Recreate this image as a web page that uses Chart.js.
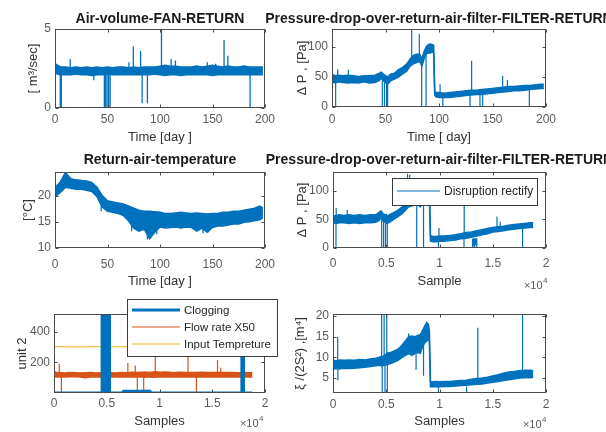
<!DOCTYPE html>
<html><head><meta charset="utf-8">
<script src="https://cdn.jsdelivr.net/npm/chart.js@4"></script>
<style>
html,body{margin:0;padding:0;background:#fff;overflow:hidden;width:606px;height:432px;position:relative;}
canvas{position:absolute;}
</style></head><body>
<canvas id="c1"></canvas><canvas id="c2"></canvas><canvas id="c3"></canvas>
<canvas id="c4"></canvas><canvas id="c5"></canvas><canvas id="c6"></canvas>
<script>
// ---------- tick labels ----------
const dayTicks = [0,50,100,150,200];
const dayTickLabels = ['0','50','100','150','200'];
const sampleTicks = [0,5000,10000,15000,20000];
const sampleTickLabels = ['0','0.5','1','1.5','2'];

// ---------- panel 1 : air volume (days) ----------
const dayGrid = [0,5,10,15,20,25,30,35,40,45,50,55,60,65,70,75,80,85,90,95,100,105,110,115,120,125,130,135,140,145,150,155,160,165,170,175,180,185,190,195,198];
const airHi = [2.8,2.6,2.6,2.55,2.6,2.55,2.6,2.55,2.6,2.55, 2.6,2.55,2.6,2.6,2.55,2.6,2.55,2.6,2.6,2.6, 2.65,2.7,2.65,2.65,2.6,2.6,2.6,2.65,2.6,2.65, 2.7,2.65,2.6,2.65,2.6,2.6,2.65,2.6,2.6,2.6,2.6];
const airLo = [2.2,2.1,2.1,2.1,2.15,2.1,2.1,2.05,2.1,2.1, 2.15,2.1,2.1,2.1,2.1,2.1,2.1,2.1,2.1,2.15, 2.1,2.05,2.1,2.1,2.05,2.1,2.1,2.1,2.1,2.1, 2.05,2.1,2.1,2.1,2.1,2.1,2.1,2.1,2.1,2.1,2.1];
const airSpikeX    = [5,6,14.5,37,47,48,49.5,51,52.5,70.4,74.6,81.5,83,88,101.4,110.6,114.7,145,153,161,164.6,185.8];
const airSpikeFrom = [2.2,2.2,2.6,2.1,2.1,2.1,2.1,2.1,2.1,2.6,2.6,2.6,2.1,2.1,2.6,2.6,2.6,2.6,2.6,2.6,2.6,2.1];
const airSpikeTo   = [0,0,3.1,1.75,0,0,0,0,0,2.9,3.9,3.6,0.3,0.3,5,3.1,3.0,2.9,2.8,4.3,3.3,0];

// ---------- panel 2 : pressure drop (days) ----------
const pDays = [0,3,6,10,15,20,25,30,35,40,44,46,48,52,55,58,62,66,70,73,76,79,82,84,86,88,90,92,94,95,96,97,100,105,110,115,120,125,130,135,140,145,150,155,160,165,170,175,180,185,190,195,198];
const pHi = [55,52,53,52,53,52,51,52,52,53,56,58,55,50,55,56,62,66,72,80,86,88,88,80,92,100,104,105,104,103,28,24,24,23,24,25,26,27,28,28,29,30,31,32,33,34,34,35,36,36,37,38,38];
const pLo = [42,40,42,41,40,41,40,42,40,41,44,48,44,38,44,46,50,55,60,68,72,74,76,68,80,88,90,90,92,90,20,17,16,16,16,17,18,19,20,21,21,22,23,24,25,26,27,27,28,29,30,31,31];
const pSpikeX    = [3.4,5.3,15.3,47,48,49,50,51,52,74.5,81.6,83.8,87.9,101,103.6,129,130.5,138.3,140.8,159.5,163.9,184.4];
const pSpikeFrom = [42,52,52,44,44,44,44,44,44,80,88,76,88,24,16,19,27,20,21,31,33,29];
const pSpikeTo   = [0,63,62,0,55,0,50,0,0,130,122,0,0,38,0,0,77,0,0,52,45,0];

// ---------- panel 3 : return air temperature (days) ----------
const tempHi = [21.5,22.6,24.4,23.2,23.0,22.9,22.8,22.5,21.6,20.0,19.0,18.8,18.6,18.4,18.0,17.6,17.2,17.0,17.0,16.9,16.8,16.6,16.6,16.7,16.8,16.7,16.6,16.7,16.6,16.5,16.6,16.6,16.8,16.8,17.0,17.0,17.2,17.4,17.6,18.0,17.6];
const tempLo = [19.8,20.6,21.6,21.4,21.2,21.2,21.0,20.8,19.8,17.8,17.0,16.8,16.6,16.2,15.2,13.8,13.2,13.6,11.8,13.0,14.0,13.8,13.9,14.0,13.8,14.0,13.9,13.2,13.8,13.0,13.9,14.2,14.2,14.4,14.6,14.6,14.9,15.0,15.2,15.4,15.8];
const tempSpikeX    = [44,73,88,91,97,141,146];
const tempSpikeFrom = [19,15.5,14,14,14,14,14];
const tempSpikeTo   = [17.0,13.2,11.6,11.8,12.6,12.8,13.0];

// ---------- panel 4 : pressure drop (samples) ----------
const sampleGrid = [0,300,600,1000,1500,2000,2500,3000,3500,4000,4300,4500,4700,5100,5400,5700,6100,6500,6800,7100,7400,7700,8000,8200,8400,8600,8800,8950,9050,9150,9400,9700,10000,10500,11000,11500,12000,12500,13000,13500,14000,14500,15000,15500,16000,16500,17000,17500,18000,18500,18800];
const sHi = [56,57,58,57,58,57,58,57,58,58,62,65,60,56,59,62,66,72,80,88,92,92,90,86,94,100,102,104,103,22,20,20,21,21,22,23,25,27,28,30,32,34,36,37,38,40,41,42,43,44,44];
const sLo = [44,43,44,44,43,44,43,44,44,45,48,52,47,43,46,50,55,60,66,72,74,75,75,72,80,86,88,90,88,12,11,11,12,12,13,14,16,17,19,21,23,25,28,29,30,32,33,34,35,36,36];
const sSpikeX    = [280,300,1340,4570,4660,4750,4840,4930,5020,5100,7000,7200,7860,8500,9900,9950,12300,12320,13100,13200,13300,13400,13500,15400,15700,17800];
const sSpikeFrom = [44,57,57,48,48,48,48,48,48,48,85,90,78,88,11,20,17,26,16,17,17,17,17,36,37,35];
const sSpikeTo   = [0,70,67,0,60,0,55,0,60,0,130,128,0,0,0,35,0,81,0,3,0,5,0,55,46,0];

// ---------- panel 5 : clogging / flow / temperature (samples) ----------
const clogX = [0,4550,4560,5250,5260,6500,6600,9100,9200,17800,17810,17950,17960,18800];
const clogY = [0,0,515,515,0,0,12,12,0,0,515,515,0,0];
const flowHi = [140,133,132,131,133,132,131,132,133,131, 132,131,132,133,132,131,132,133,132,134, 135,136,134,136,135,137,136,135,134,135, 137,138,136,137,135,134,135,134,133,134, 135,134,133,134,133,134,133,132,133,132,133];
const flowLo = [108,105,106,105,106,107,105,100,106,105, 106,105,106,105,106,105,106,105,106,105, 104,105,106,104,105,103,104,105,106,105, 103,104,105,104,105,106,105,104,105,106, 105,104,105,106,105,104,105,106,105,104,105];
const flowSpikeX    = [500,700,4600,4800,5000,7000,7700,7900,8500,9600,12700,13500,15500,15800,17900];
const flowSpikeFrom = [130,105,105,105,105,130,130,105,105,130,130,105,130,130,105];
const flowSpikeTo   = [190,0,0,0,0,195,180,0,0,280,330,0,215,165,0];
const tempInX = [0,2000,4000,6000,8000,10000,12000,14000,16000,18800];
const tempInY = [302,300,302,301,302,300,301,300,302,301];

// ---------- panel 6 : xi/(2S^2) (samples) ----------
const xiHi = [9.3,9.2,9.4,9.3,9.4,9.3,9.5,9.4,9.6,9.8, 10.0,10.2,10.2,11.0,11.2,11.5,12.0,13.0,14.0,15.0, 15.2,15.0,15.4,15.5,16.5,17.5,18.5,18.0,16.5,4.2, 4.1,4.2,4.1,4.2,4.2,4.3,4.4,4.5,4.7,4.9,5.0,5.2,5.5,5.8,6.2,6.5,6.6,6.8,6.9,6.9,6.8];
const xiLo = [7.2,7.3,7.2,7.4,7.3,7.4,7.5,7.6,7.8,8.0, 8.1,8.0,8.0,8.3,8.5,8.8,9.3,10.0,10.5,11.0, 10.5,11.0,11.2,11.0,12.5,13.5,14.0,14.5,13.8,2.9, 2.9,3.0,2.9,3.0,3.0,3.1,3.2,3.3,3.4,3.5,3.6,3.8,4.0,4.2,4.4,4.6,4.8,5.0,5.1,5.1,5.2];
const xiSpikeX    = [440,460,4570,4620,4800,4880,5050,5100,7100,7800,8500,9900,12550,13600,17800];
const xiSpikeFrom = [9.3,7.3,9.0,8.2,9.0,8.2,9.0,8.2,14,11,14,3,3,4.5,6.5];
const xiSpikeTo   = [15,4.5,20.5,1,20.5,1,20.5,1,15.8,7,5.6,1,1,17.2,20.5];

// ---------- styling ----------
const FONT = '"Liberation Sans", Arial, Helvetica, sans-serif';
const BLUE = '#0072BD', ORANGE = '#D95319', YELLOW = '#EDB120';
const TICKC = '#5a5a5a', BOXC = '#4a4a4a';

function xy(xs, ys){ return xs.map((x,i)=>({x:x, y:ys[i]})); }
function spikes(xs, from, to){ const out=[]; xs.forEach((x,i)=>{ out.push({x:x,y:from[i]},{x:x,y:to[i]},{x:x,y:null}); }); return out; }
function band(xs, hi, lo, color, label, w){
  return [
    {label:label, data:xy(xs,hi), borderColor:color, backgroundColor:color, borderWidth:w||1.5, fill:'+1', pointRadius:0, tension:0},
    {label:label+' low', data:xy(xs,lo), borderColor:color, backgroundColor:color, borderWidth:w||1.5, fill:false, pointRadius:0, tension:0}
  ];
}
function spikeSet(xs, f, t, color, w){
  return {label:'spikes', data:spikes(xs,f,t), borderColor:color, borderWidth:w||1.1, pointRadius:0, fill:false, spanGaps:false};
}

const decor = {
  id:'decor',
  afterDatasetsDraw(chart, args, o){
    const ctx = chart.ctx, a = chart.chartArea;
    ctx.save();
    ctx.strokeStyle = BOXC; ctx.lineWidth = 1;
    const L = Math.round(a.left)+0.5, T = Math.round(a.top)+0.5, R = Math.round(a.right)-0.5, B = Math.round(a.bottom)-0.5;
    ctx.strokeRect(L, T, R-L, B-T);
    ctx.beginPath();
    chart.scales.x.ticks.forEach(t=>{ const px = Math.round(chart.scales.x.getPixelForValue(t.value))+0.5;
      ctx.moveTo(px,B); ctx.lineTo(px,B-3); ctx.moveTo(px,T); ctx.lineTo(px,T+3); });
    chart.scales.y.ticks.forEach(t=>{ const py = Math.round(chart.scales.y.getPixelForValue(t.value))+0.5;
      ctx.moveTo(L,py); ctx.lineTo(L+3,py); ctx.moveTo(R,py); ctx.lineTo(R-3,py); });
    ctx.stroke();
    ctx.restore();
  },
  afterDraw(chart, args, o){
    const ctx = chart.ctx, ox = o.ox||0, oy = o.oy||0;
    ctx.save();
    if (o.exponent){
      const e = o.exponent;
      ctx.fillStyle = TICKC; ctx.textBaseline='middle';
      ctx.font = '8px '+FONT; const w4 = ctx.measureText(e.sup).width;
      ctx.font = '11px '+FONT; const wb = ctx.measureText(e.base).width;
      const x0 = e.right - ox - w4 - wb, y0 = e.y - oy;
      ctx.textAlign='left';
      ctx.fillText(e.base, x0, y0+1);
      ctx.font = '8px '+FONT; ctx.fillText(e.sup, x0+wb+0.5, y0-4);
    }
    if (o.legend){
      const g = o.legend;
      const bx = g.x-ox, by = g.y-oy;
      ctx.fillStyle='#fff'; ctx.fillRect(bx,by,g.w,g.h);
      ctx.strokeStyle='#3a3a3a'; ctx.lineWidth=1; ctx.strokeRect(bx+0.5,by+0.5,g.w,g.h);
      g.items.forEach(it=>{
        const ds = chart.data.datasets[it.ds];
        const y = it.y-oy;
        ctx.strokeStyle = ds.borderColor; ctx.lineWidth = it.lw;
        ctx.beginPath(); ctx.moveTo(g.lx0-ox, y); ctx.lineTo(g.lx1-ox, y); ctx.stroke();
        ctx.fillStyle='#262626'; ctx.font = g.font+'px '+FONT; ctx.textAlign='left'; ctx.textBaseline='middle';
        ctx.fillText(ds.label, g.tx-ox, y+0.5);
      });
    }
    ctx.restore();
  }
};
Chart.register(decor);

function makeChart(id, g, ax, datasets, decorOpts){
  const cv = document.getElementById(id);
  cv.width = g.cw; cv.height = g.ch;
  cv.style.left = g.cx+'px'; cv.style.top = g.cy+'px';
  const tLH = 14*1.2;
  const hasTitle = !!ax.title;
  const rightW = g.cx+g.cw-g.area.r;
  const d = Object.assign({ox:g.cx, oy:g.cy}, decorOpts||{});
  return new Chart(cv, {
    type:'line',
    data:{datasets:datasets},
    options:{
      responsive:false, animation:false, events:[], devicePixelRatio:1,
      layout:{padding:{top: hasTitle?0:(g.area.t-g.cy), left:0, right:0, bottom:0}},
      plugins:{
        legend:{display:false}, tooltip:{enabled:false},
        title: hasTitle ? {display:true, text:ax.title, color:'#1a1a1a', font:{family:FONT,size:14,weight:'bold'},
                 padding:{top: ax.titleY-g.cy-tLH/2, bottom: g.area.t-ax.titleY-tLH/2}} : {display:false},
        decor: d
      },
      scales:{
        x:{type:'linear', min:ax.xMin, max:ax.xMax,
           afterFit:s=>{ s.height = g.cy+g.ch-g.area.b; },
           afterBuildTicks:s=>{ s.ticks = ax.xTicks.map(v=>({value:v})); },
           grid:{display:false, drawTicks:false}, border:{display:false},
           ticks:{autoSkip:false, maxRotation:0, minRotation:0, padding:ax.xPad, color:TICKC, font:{family:FONT,size:12},
                  callback:(v,i)=>ax.xLabels[i]},
           title:{display:true, text:ax.xTitle, color:'#333', font:{family:FONT,size:13}, padding:{top:0, bottom:g.cy+g.ch-ax.xTitleY-7.8}}},
        y:{type:'linear', min:ax.yMin, max:ax.yMax,
           afterFit:s=>{ s.width = g.area.l-g.cx; },
           afterBuildTicks:s=>{ s.ticks = ax.yTicks.map(v=>({value:v})); },
           grid:{display:false, drawTicks:false}, border:{display:false},
           ticks:{autoSkip:false, padding:4, color:TICKC, font:{family:FONT,size:12},
                  callback:(v,i)=>ax.yLabels[i]},
           title:{display:true, text:ax.yTitle, color:'#333', font:{family:FONT,size:13}, padding:{top:ax.yTitleX-g.cx-7.8, bottom:0}}},
        yr:{type:'linear', axis:'y', position:'right', display:true,
           afterFit:s=>{ s.width = rightW; },
           grid:{display:false, drawTicks:false}, border:{display:false}, ticks:{display:false}}
      }
    }
  });
}

// Panel 1
makeChart('c1', {cx:0, cy:0, cw:320, ch:148, area:{l:55,t:29,r:265,b:108}},
  {title:'Air-volume-FAN-RETURN', titleY:19, xMin:0, xMax:200, xTicks:dayTicks, xLabels:dayTickLabels, xPad:4.8, xTitle:'Time [day ]', xTitleY:137,
   yMin:0, yMax:5, yTicks:[0,5], yLabels:['0','5'], yTitle:'[ m³/sec]', yTitleX:33},
  [...band(dayGrid, airHi, airLo, BLUE, 'Air volume'), spikeSet(airSpikeX, airSpikeFrom, airSpikeTo, BLUE, 1.3)]);

// Panel 2
makeChart('c2', {cx:230, cy:0, cw:418, ch:148, area:{l:332,t:29,r:546,b:107}},
  {title:'Pressure-drop-over-return-air-filter-FILTER-RETURN', titleY:19, xMin:0, xMax:200, xTicks:dayTicks, xLabels:dayTickLabels, xPad:5.8, xTitle:'Time [ day]', xTitleY:137,
   yMin:0, yMax:130, yTicks:[0,50,100], yLabels:['0','50','100'], yTitle:'Δ P , [Pa]', yTitleX:302},
  [...band(pDays, pHi, pLo, BLUE, 'Pressure drop'), spikeSet(pSpikeX, pSpikeFrom, pSpikeTo, BLUE, 1.2)]);

// Panel 3
makeChart('c3', {cx:0, cy:145, cw:320, ch:150, area:{l:55,t:172,r:265,b:248}},
  {title:'Return-air-temperature', titleY:160, xMin:0, xMax:200, xTicks:dayTicks, xLabels:dayTickLabels, xPad:9.5, xTitle:'Time [day ]', xTitleY:281,
   yMin:10, yMax:24.5, yTicks:[10,15,20], yLabels:['10','15','20'], yTitle:'[°C]', yTitleX:28},
  [...band(dayGrid, tempHi, tempLo, BLUE, 'Return air temperature'), spikeSet(tempSpikeX, tempSpikeFrom, tempSpikeTo, BLUE, 1.3)]);

// Panel 4
makeChart('c4', {cx:231, cy:145, cw:417, ch:150, area:{l:333,t:172,r:546,b:248}},
  {title:'Pressure-drop-over-return-air-filter-FILTER-RETURN', titleY:160, xMin:0, xMax:20000, xTicks:sampleTicks, xLabels:sampleTickLabels, xPad:8.8, xTitle:'Sample', xTitleY:281,
   yMin:0, yMax:133, yTicks:[0,50,100], yLabels:['0','50','100'], yTitle:'Δ P , [Pa]', yTitleX:302},
  [...band(sampleGrid, sHi, sLo, BLUE, 'Disruption rectify'), spikeSet(sSpikeX, sSpikeFrom, sSpikeTo, BLUE, 1.2)],
  {exponent:{base:'×10', sup:'4', right:547, y:285},
   legend:{x:392, y:178, w:145, h:27, lx0:397, lx1:440, tx:444, font:12, items:[{ds:0, y:191, lw:1.2}]}});

// Panel 5
makeChart('c5', {cx:0, cy:295, cw:300, ch:137, area:{l:54,t:314,r:265,b:393}},
  {xMin:0, xMax:20000, xTicks:sampleTicks, xLabels:sampleTickLabels, xPad:3.3, xTitle:'Samples', xTitleY:421,
   yMin:0, yMax:515, yTicks:[200,400], yLabels:['200','400'], yTitle:'unit 2', yTitleX:22},
  [
    {label:'Clogging', data:xy(clogX, clogY), borderColor:BLUE, backgroundColor:BLUE, borderWidth:3, fill:'origin', pointRadius:0, order:0},
    {label:'Flow rate X50', data:xy(sampleGrid, flowHi), borderColor:ORANGE, backgroundColor:ORANGE, borderWidth:1.5, fill:'+1', pointRadius:0, order:1},
    {label:'Flow rate X50 low', data:xy(sampleGrid, flowLo), borderColor:ORANGE, borderWidth:1.5, fill:false, pointRadius:0, order:1},
    Object.assign(spikeSet(flowSpikeX, flowSpikeFrom, flowSpikeTo, ORANGE, 1.2), {order:2}),
    {label:'Input Tempreture', data:xy(tempInX, tempInY), borderColor:YELLOW, borderWidth:1, fill:false, pointRadius:0, order:3}
  ],
  {exponent:{base:'×10', sup:'4', right:263, y:423},
   legend:{x:127, y:299, w:150, h:57, lx0:132, lx1:180, tx:184, font:11.5,
           items:[{ds:0, y:310, lw:3}, {ds:1, y:327, lw:1}, {ds:4, y:344, lw:1}]}});

// Panel 6
makeChart('c6', {cx:280, cy:295, cw:326, ch:137, area:{l:333,t:314,r:546,b:393}},
  {xMin:0, xMax:20000, xTicks:sampleTicks, xLabels:sampleTickLabels, xPad:4.8, xTitle:'Samples', xTitleY:421,
   yMin:1.4, yMax:20.5, yTicks:[5,10,15,20], yLabels:['5','10','15','20'], yTitle:'ξ /(2S²) ,[m⁴]', yTitleX:300},
  [...band(sampleGrid, xiHi, xiLo, BLUE, 'xi'), spikeSet(xiSpikeX, xiSpikeFrom, xiSpikeTo, BLUE, 1.2)],
  {exponent:{base:'×10', sup:'4', right:546, y:424}});
</script>
</body></html>
